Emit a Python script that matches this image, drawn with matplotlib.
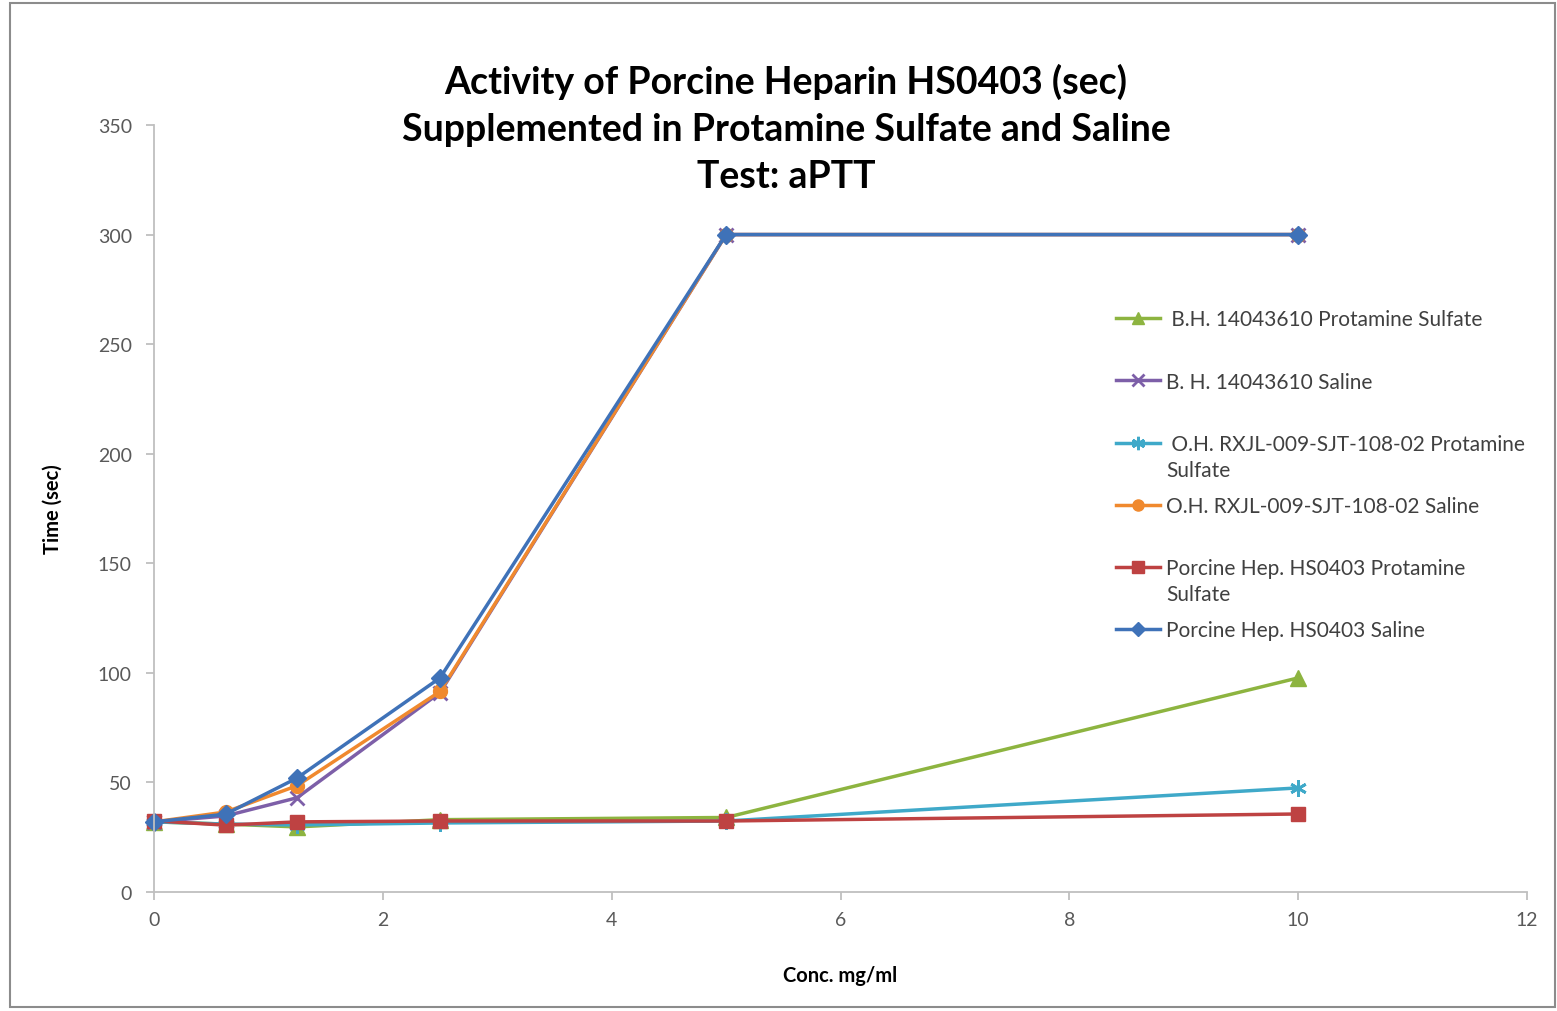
import matplotlib
matplotlib.use("Agg")
import matplotlib.pyplot as plt
from matplotlib.patches import Rectangle

# Concentrations (mg/ml) and clotting times (sec)
conc = [0, 0.625, 1.25, 2.5, 5, 10]

bh_protamine = [32, 31, 29.7, 33, 34, 97.7]
bh_saline = [32, 34.7, 43, 91, 300, 300]
oh_protamine = [32, 31, 30.6, 31.5, 32.4, 47.5]
oh_saline = [32, 36.5, 48.5, 91.5, 300, 300]
ph_protamine = [32.5, 30.5, 32, 32.4, 32.4, 35.6]
ph_saline = [32, 35.5, 52, 97.7, 300, 300]

labels = [
    " B.H. 14043610 Protamine Sulfate",
    "B. H. 14043610 Saline",
    " O.H. RXJL-009-SJT-108-02 Protamine\nSulfate",
    "O.H. RXJL-009-SJT-108-02 Saline",
    "Porcine Hep. HS0403 Protamine\nSulfate",
    "Porcine Hep. HS0403 Saline",
]
series = [bh_protamine, bh_saline, oh_protamine, oh_saline, ph_protamine, ph_saline]
colors = ["#8DB440", "#7D5FA8", "#3FA9C9", "#F0892E", "#BE4242", "#3F72B8"]
markers = ["^", "x", (6, 2, 0), "o", "s", "D"]
msizes = [11, 10, 12, 10, 10, 9]

title_lines = [
    "Activity of Porcine Heparin HS0403 (sec)",
    "Supplemented in Protamine Sulfate and Saline",
    "Test: aPTT",
]

plt.rcParams["font.family"] = ["Lato", "DejaVu Sans"]

fig = plt.figure(figsize=(15.57, 10.12), dpi=100)
fig.patches.append(Rectangle((10 / 1557, 4 / 1012), 1545 / 1557, 1004 / 1012,
                             transform=fig.transFigure, fill=False,
                             edgecolor="#8C8C8C", linewidth=1.5))

ax = fig.add_axes([154 / 1557, 119 / 1012, 1373 / 1557, 767 / 1012])

handles = []
for ys, lab, c, m, ms in zip(series, labels, colors, markers, msizes):
    mew = 2 if m in ("x", (6, 2, 0)) else 1
    line, = ax.plot(conc, ys, color=c, linewidth=2.5, marker=m, markersize=ms,
                    markeredgewidth=mew, markeredgecolor=c, markerfacecolor=c,
                    label=lab, clip_on=False)
    handles.append(line)

ax.set_xlim(0, 12)
ax.set_ylim(0, 350)
ax.set_xticks(range(0, 13, 2))
ax.set_yticks(range(0, 351, 50))

for side in ("top", "right"):
    ax.spines[side].set_visible(False)
for side in ("left", "bottom"):
    ax.spines[side].set_color("#BFBFBF")
    ax.spines[side].set_linewidth(1.3)
ax.tick_params(axis="both", colors="#BFBFBF", labelcolor="#595959",
               labelsize=14, length=6, width=1.3, direction="out")
ax.tick_params(axis="y", pad=10)
ax.tick_params(axis="x", pad=8)

ax.set_xlabel("Conc. mg/ml", fontsize=14.5, fontweight="bold", labelpad=26)
ax.set_ylabel("Time (sec)", fontsize=14.5, fontweight="bold", labelpad=25)

fig.text(786 / 1557, 1 - 129 / 1012, "\n".join(title_lines), ha="center", va="center",
         fontsize=27, fontweight="bold", linespacing=1.46,
         transform=fig.transFigure)

# One legend per series, stacked at a fixed step; the wrapped part of a
# long label is set as a continuation line under its first line, so the
# marker stays beside the first line and later entries keep their step.
leg_x = 1106 / 1557
leg_top = 1 - 300 / 1012
leg_step = 62.2 / 1012
line_gap = 26 / 1012
legend_color = "#404040"
continuations = []
for i, (h, lab) in enumerate(zip(handles, labels)):
    first, *rest = lab.split("\n")
    leg = fig.legend([h], [first], loc="upper left",
                     bbox_to_anchor=(leg_x, leg_top - i * leg_step),
                     bbox_transform=fig.transFigure, frameon=False, fontsize=15,
                     handlelength=2.1, handletextpad=0.3, borderpad=0,
                     markerscale=0.8, labelcolor=legend_color)
    if rest:
        continuations.append((leg.get_texts()[0], rest))

fig.canvas.draw()
inv = fig.transFigure.inverted()
for txt, rest in continuations:
    bb = txt.get_window_extent()
    x0, y0 = inv.transform((bb.x0, bb.y0))
    for k, part in enumerate(rest, start=1):
        fig.text(x0, y0 - k * line_gap, part.strip(), ha="left", va="bottom",
                 fontsize=15, color=legend_color, transform=fig.transFigure)

fig.savefig("out.png", dpi=100)
